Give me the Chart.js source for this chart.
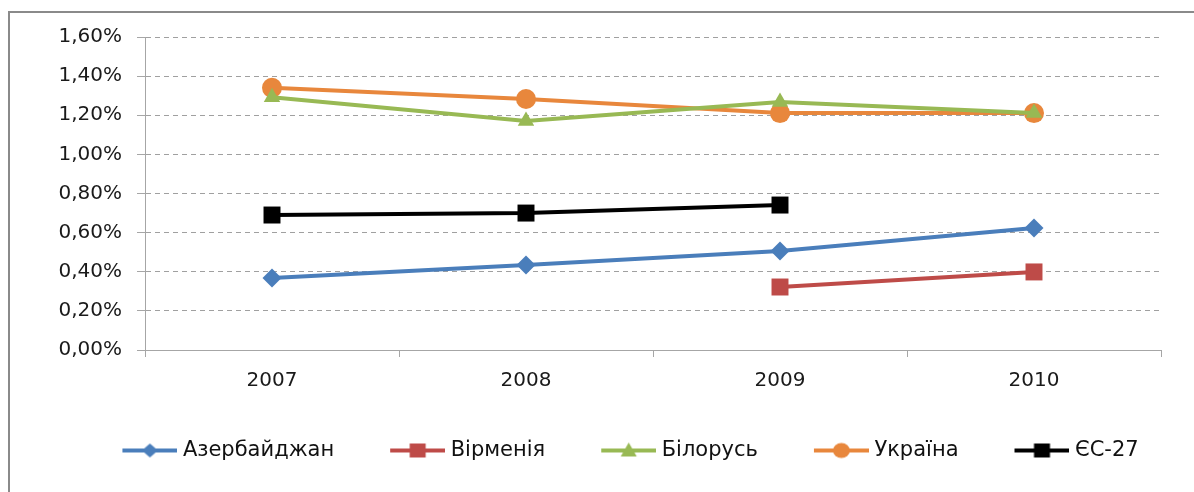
<!DOCTYPE html>
<html>
<head>
<meta charset="utf-8">
<script src="https://cdn.jsdelivr.net/npm/chart.js@4.4.1/dist/chart.umd.min.js"></script>
<style>
  html, body { margin: 0; padding: 0; background: #fff; overflow: hidden; }
  #clip { position: absolute; left: 0; top: 0; width: 1194px; height: 492px; overflow: hidden; }
  #frame { position: absolute; left: 8px; top: 11px; width: 1300px; height: 600px;
           border-top: 2px solid #8a8a8a; border-left: 2px solid #8a8a8a; }
  #wrap { position: absolute; left: 0; top: 0; width: 1194px; height: 492px; }
</style>
</head>
<body>
<div id="clip">
<div id="frame"></div>
<div id="wrap"><canvas id="c" width="1194" height="492"></canvas></div>
</div>
<script>
const categories = ['2007', '2008', '2009', '2010'];
const seriesNames = ['Азербайджан', 'Вірменія', 'Білорусь', 'Україна', 'ЄС-27'];
const azerbaijan = [0.368, 0.434, 0.506, 0.624];
const armenia    = [null, null, 0.322, 0.399];
const belarus    = [1.292, 1.171, 1.268, 1.212];
const ukraine    = [1.340, 1.283, 1.211, 1.211];
const eu27       = [0.690, 0.700, 0.741, null];
const yTicks = [0, 0.2, 0.4, 0.6, 0.8, 1.0, 1.2, 1.4, 1.6];

const colors = ['#4A7EBB', '#BE4B48', '#98B954', '#E8873C', '#000000'];
const styles = ['rectRot', 'rect', 'triangle', 'circle', 'rect'];
const radii  = [9.5, 12, 9.5, 10, 12];
const seriesData = [azerbaijan, armenia, belarus, ukraine, eu27];

const FONT = 'DejaVu Sans';
Chart.defaults.font.family = FONT;
Chart.defaults.color = '#1a1a1a';

// legend sample images: blank space + line with marker
const BOX_W = 96, LEG_W = BOX_W + 10, LEG_H = 22, LINE_LEN = 55;
function legendImage(i) {
  const cv = document.createElement('canvas');
  cv.width = LEG_W; cv.height = LEG_H;
  const g = cv.getContext('2d');
  const x0 = LEG_W - LINE_LEN, cy = LEG_H / 2, cx = x0 + LINE_LEN / 2;
  g.strokeStyle = colors[i]; g.lineWidth = 4;
  g.beginPath(); g.moveTo(x0, cy); g.lineTo(LEG_W, cy); g.stroke();
  g.fillStyle = colors[i];
  g.beginPath();
  const s = styles[i];
  if (s === 'rectRot') { g.moveTo(cx, cy - 7); g.lineTo(cx + 8, cy); g.lineTo(cx, cy + 7); g.lineTo(cx - 8, cy); }
  else if (s === 'rect') { g.rect(cx - 8, cy - 7, 16, 14); }
  else if (s === 'triangle') { g.moveTo(cx, cy - 8); g.lineTo(cx + 8, cy + 6); g.lineTo(cx - 8, cy + 6); g.closePath(); }
  else { g.ellipse(cx, cy, 8.5, 7.5, 0, 0, Math.PI * 2); }
  g.fill();
  return cv;
}
const legImgs = seriesNames.map((_, i) => legendImage(i));

const datasets = seriesNames.map((name, i) => ({
  label: name,
  data: seriesData[i],
  borderColor: colors[i],
  backgroundColor: colors[i],
  borderWidth: 4,
  pointStyle: styles[i],
  pointRadius: radii[i],
  pointHoverRadius: radii[i],
  pointBorderWidth: 0,
  pointBackgroundColor: colors[i],
  tension: 0,
  spanGaps: false
}));

new Chart(document.getElementById('c'), {
  type: 'line',
  data: { labels: categories, datasets },
  options: {
    responsive: false,
    animation: false,
    layout: { padding: { left: 54, right: 33, top: 37, bottom: 21 } },
    plugins: {
      tooltip: { enabled: false },
      legend: {
        position: 'bottom',
        labels: {
          usePointStyle: true,
          pointStyleWidth: BOX_W,
          boxHeight: 21,
          padding: 10,
          color: '#111',
          font: { family: FONT, size: 21 },
          generateLabels(chart) {
            const items = Chart.defaults.plugins.legend.labels.generateLabels(chart);
            items.forEach((it, i) => { it.pointStyle = legImgs[i]; });
            return items;
          }
        }
      }
    },
    scales: {
      x: {
        type: 'category',
        offset: true,
        afterFit(scale) { scale.height = 80; },
        grid: { offset: true, drawOnChartArea: false, drawTicks: true, tickLength: 7, tickColor: '#a6a6a6', color: '#a6a6a6' },
        border: { color: '#a6a6a6', width: 1 },
        ticks: { padding: 12, color: '#1a1a1a', font: { family: FONT, size: 20 } }
      },
      y: {
        min: 0, max: 1.6,
        afterFit(scale) { scale.width = 91; },
        afterBuildTicks(scale) { scale.ticks = yTicks.map(v => ({ value: v })); },
        grid: { color: '#a0a0a0', lineWidth: 1, tickLength: 8, tickColor: '#a6a6a6', tickBorderDash: [] },
        border: { color: '#a6a6a6', width: 1, dash: [5, 4] },
        ticks: {
          padding: 15, color: '#1a1a1a', font: { family: FONT, size: 20 },
          callback: v => Number(v).toFixed(2).replace('.', ',') + '%'
        }
      }
    }
  },
  plugins: [{
    id: 'solidAxis',
    afterDraw(chart) {
      const { ctx, chartArea } = chart;
      ctx.save();
      ctx.strokeStyle = '#a6a6a6'; ctx.lineWidth = 1;
      ctx.beginPath();
      ctx.moveTo(chartArea.left + 0.5, chartArea.top);
      ctx.lineTo(chartArea.left + 0.5, chartArea.bottom);
      ctx.moveTo(chartArea.left, chartArea.bottom + 0.5);
      ctx.lineTo(chartArea.right, chartArea.bottom + 0.5);
      ctx.stroke();
      ctx.restore();
    }
  }]
});
</script>
</body>
</html>
